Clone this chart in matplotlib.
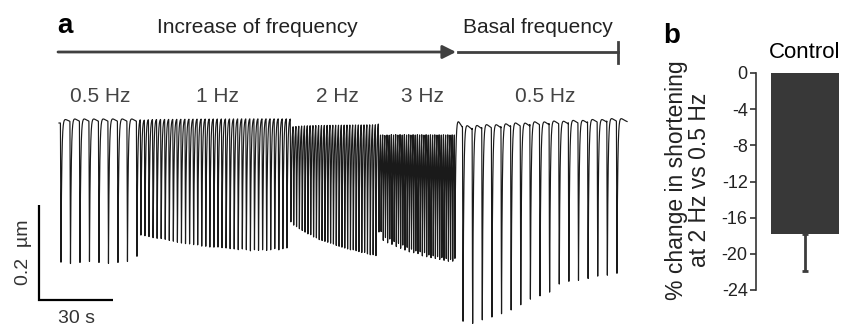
import numpy as np
import matplotlib.pyplot as plt

plt.rcParams['font.family'] = ['Liberation Sans', 'DejaVu Sans']
plt.rcParams['axes.unicode_minus'] = False

W, H = 841, 327

# --- panel a: sarcomere length trace (µm, relative to initial rest) ---
# stimulation blocks: label, time of first and last twitch (s)
seg_labels = ['0.5 Hz', '1 Hz', '2 Hz', '3 Hz', '0.5 Hz']
seg_first = [0.4, 32.8, 93.6, 129.3, 163.4]
seg_last = [31.2, 92.0, 128.1, 160.1, 225.8]

# diastolic (rest) level and peak of each twitch
rest_05a = 0.0
trough_05a = [-0.293, -0.299, -0.297, -0.295, -0.297, -0.299, -0.297, -0.295, -0.284]

rest_1 = -0.004
trough_1 = [-0.244, -0.248, -0.251, -0.253, -0.255, -0.255, -0.257, -0.259, -0.261,
            -0.263, -0.265, -0.267, -0.267, -0.269, -0.269, -0.272, -0.272, -0.274,
            -0.274, -0.274, -0.276, -0.276, -0.278, -0.278, -0.280, -0.278, -0.280,
            -0.282, -0.280, -0.282, -0.280, -0.282, -0.280, -0.278, -0.280, -0.278,
            -0.276]

rest_2 = -0.013
trough_2 = [-0.221, -0.225, -0.229, -0.234, -0.238, -0.242, -0.246, -0.248, -0.253,
            -0.255, -0.259, -0.261, -0.263, -0.265, -0.267, -0.269, -0.272, -0.274,
            -0.276, -0.278, -0.280, -0.282, -0.282, -0.284, -0.286, -0.288, -0.288,
            -0.291, -0.293, -0.293, -0.295]

rest_3 = -0.020
trough_3 = [-0.246, -0.238, -0.257, -0.251, -0.263, -0.255, -0.267, -0.261, -0.272,
            -0.265, -0.276, -0.269, -0.280, -0.274, -0.284, -0.278, -0.286, -0.282,
            -0.288, -0.284, -0.293, -0.286, -0.295, -0.291, -0.297, -0.293, -0.299,
            -0.295, -0.301, -0.297, -0.303, -0.299, -0.305, -0.301, -0.305, -0.299]

rest_05b = [-0.019, -0.017, -0.015, -0.015, -0.013, -0.011, -0.011, -0.008, -0.008,
            -0.006, -0.006, -0.004, -0.004, -0.002, -0.002, 0.0, 0.0]
trough_05b = [-0.427, -0.427, -0.419, -0.413, -0.406, -0.398, -0.387, -0.375, -0.368,
              -0.360, -0.343, -0.337, -0.335, -0.331, -0.326, -0.324, -0.320]

trace_start, trace_end = -0.4, 229.9
scale_t, scale_um = 30, 0.2

# --- panel b ---
groups = ['Control']
change_2hz = [-17.8]
change_sem = [4.1]

# build the trace from the per-twitch values
segments = [(rest_05a, trough_05a), (rest_1, trough_1), (rest_2, trough_2),
            (rest_3, trough_3), (rest_05b, trough_05b)]
beat_t, beat_r, beat_m = [], [], []
for (rest, trough), t0, t1 in zip(segments, seg_first, seg_last):
    n = len(trough)
    beat_t.append(np.linspace(t0, t1, n))
    beat_r.append(np.broadcast_to(np.asarray(rest, float), (n,)))
    beat_m.append(np.asarray(trough, float))
beat_t = np.concatenate(beat_t)
beat_r = np.concatenate(beat_r)
beat_m = np.concatenate(beat_m)
amp = beat_r - beat_m

tc, tau, t_os = 0.25, 0.3, 1.2
t = np.arange(trace_start, trace_end, 0.01)
idx = np.clip(np.searchsorted(beat_t - tc, t) - 1, 0, None)
y = beat_r[idx].copy()
for tb, a in zip(beat_t, amp):
    d = t - tb
    down = (d > -tc) & (d <= 0)
    y[down] -= a * np.sin(np.pi / 2 * (d[down] + tc) / tc) ** 2
    up = d > 0
    y[up] -= a * np.exp(-d[up] / tau)
    y[up] += 0.03 * a * (d[up] / t_os) * np.exp(1 - d[up] / t_os)

fig = plt.figure(figsize=(W / 100, H / 100), dpi=100)


def fx(x):
    return x / W


def fy(yy):
    return 1 - yy / H


# trace axes, mapped so that 30 s = 74 px and 0.2 µm = 95 px
px_s, px_um = 74 / 30, 475
ax = fig.add_axes([0, 0, 640 / W, 1])
ax.set_xlim((0 - 60) / px_s, (640 - 60) / px_s)
ax.set_ylim((123 - H) / px_um, 123 / px_um)
ax.axis('off')
ax.plot(t, y, color='#1a1a1a', lw=0.85)

# scale bar
x0 = (39 - 60) / px_s
y0 = (123 - 300) / px_um
ax.plot([x0, x0, x0 + scale_t], [y0 + scale_um, y0, y0], color='k', lw=1.6,
        solid_joinstyle='miter', solid_capstyle='butt')
fig.text(fx(23), fy(252), '0.2  µm', rotation=90, ha='center', va='center',
         fontsize=14, color='#333333')
fig.text(fx(76), fy(310), '30 s', ha='center', va='top', fontsize=14, color='#333333')

# headers
fig.text(fx(57), fy(33), 'a', fontsize=20, fontweight='bold', va='baseline')
fig.text(fx(257), fy(33), 'Increase of frequency', fontsize=15, ha='center',
         va='baseline', color='#222222')
fig.text(fx(538), fy(33), 'Basal frequency', fontsize=15, ha='center',
         va='baseline', color='#222222')
ax.annotate('', xy=(fx(456), fy(52)), xytext=(fx(58), fy(52)),
            xycoords='figure fraction',
            arrowprops=dict(arrowstyle='-|>', lw=2, color='#404040',
                            mutation_scale=20, shrinkA=0, shrinkB=0))
fig.add_artist(plt.Line2D([fx(458), fx(618)], [fy(52), fy(52)], lw=2, color='#404040'))
fig.add_artist(plt.Line2D([fx(618), fx(618)], [fy(42), fy(63)], lw=2, color='#404040'))

for lab, xc in zip(seg_labels, [100, 217, 337, 422, 545]):
    fig.text(fx(xc), fy(102), lab, fontsize=15, ha='center', va='baseline',
             color='#444444')

# --- panel b ---
fig.text(fx(663), fy(43), 'b', fontsize=20, fontweight='bold', va='baseline')
bx = fig.add_axes([fx(756), fy(290), 104 / W, 217 / H])
bx.bar(range(len(groups)), change_2hz, width=1, color='#383838')
bx.errorbar(range(len(groups)), change_2hz, yerr=[change_sem, [0] * len(groups)],
            fmt='none', ecolor='#3c3c3c', elinewidth=2, capsize=2, capthick=2)
bx.set_xlim(-0.72, 0.81)
bx.set_ylim(-24, 0)
bx.set_yticks(range(-24, 1, 4))
bx.set_xticks([])
for s in ['top', 'right', 'bottom']:
    bx.spines[s].set_visible(False)
bx.spines['left'].set_linewidth(1.2)
bx.spines['left'].set_color('#333333')
bx.tick_params(axis='y', length=4, width=1.2, color='#333333', labelsize=13,
               pad=2, labelcolor='#222222')
fig.text(fx(769), fy(58), groups[0], fontsize=16, ha='left', va='baseline')
fig.text(fx(688), fy(180), '% change in shortening\nat 2 Hz vs 0.5 Hz', rotation=90,
         ha='center', va='center', multialignment='center', fontsize=16.5,
         linespacing=1.05, color='#222222')

fig.savefig('out.png', dpi=100)
